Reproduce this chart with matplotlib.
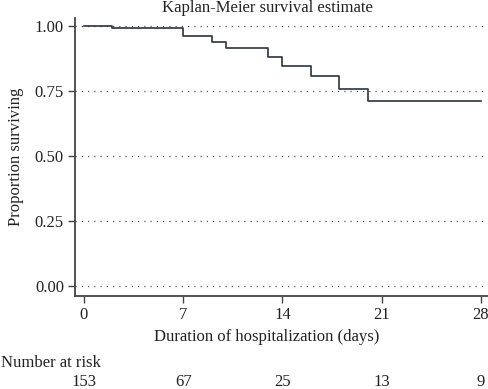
from matplotlib import pyplot as plt
from matplotlib import transforms
import numpy as np

plt.rcParams['font.family'] = ['Liberation Serif', 'DejaVu Serif']

# Kaplan-Meier estimate
days = [0, 2, 7, 9, 10, 13, 14, 16, 18, 20, 28]
surv = [1.0, 0.993, 0.962, 0.941, 0.916, 0.883, 0.849, 0.808, 0.759, 0.711, 0.711]

risk_days = [0, 7, 14, 21, 28]
at_risk = [153, 67, 25, 13, 9]

y_ticks = [0.0, 0.25, 0.5, 0.75, 1.0]

line_col = '#2b3440'
axis_col = '#444444'
txt_col = '#222222'
fs = 12

fig = plt.figure(figsize=(4.89, 3.89), dpi=100)
ax = fig.add_axes([75/489, 1 - 296/389, 414/489, 278/389])

ax.step(days, surv, where='post', color=line_col, lw=1.2)

for yv in y_ticks:
    ax.axhline(yv, color='#555555', lw=0.9, ls=(0, (1, 4)), zorder=0)

ax.set_xlim(-0.63, 28.56)
ax.set_ylim(-0.037, 1.032)
ax.set_xticks(risk_days)
ax.set_yticks(y_ticks)
ax.set_yticklabels(['%.2f' % v for v in y_ticks])

for s in ['top', 'right']:
    ax.spines[s].set_visible(False)
for s in ['left', 'bottom']:
    ax.spines[s].set_color(axis_col)
    ax.spines[s].set_linewidth(1.3)
ax.tick_params(axis='both', direction='out', length=5, width=1.0, color=axis_col,
               labelsize=fs, labelcolor=txt_col, pad=3)

ax.set_ylabel('Proportion surviving', fontsize=fs, color=txt_col, labelpad=8)

fig.text(267/489, 1 - 8/389, 'Kaplan-Meier survival estimate', ha='center', va='center',
         fontsize=fs, color=txt_col)
fig.text(267/489, 1 - 337/389, 'Duration of hospitalization (days)', ha='center', va='center',
         fontsize=fs, color=txt_col)
fig.text(1/489, 1 - 363/389, 'Number at risk', ha='left', va='center',
         fontsize=fs, color=txt_col)

# number at risk row: x in data units, y in figure fraction
trans = transforms.blended_transform_factory(ax.transData, fig.transFigure)
for d, n in zip(risk_days, at_risk):
    ax.text(d, 1 - 382/389, str(n), transform=trans, ha='center', va='center',
            fontsize=fs, color=txt_col)

fig.savefig('out.png', dpi=100)
